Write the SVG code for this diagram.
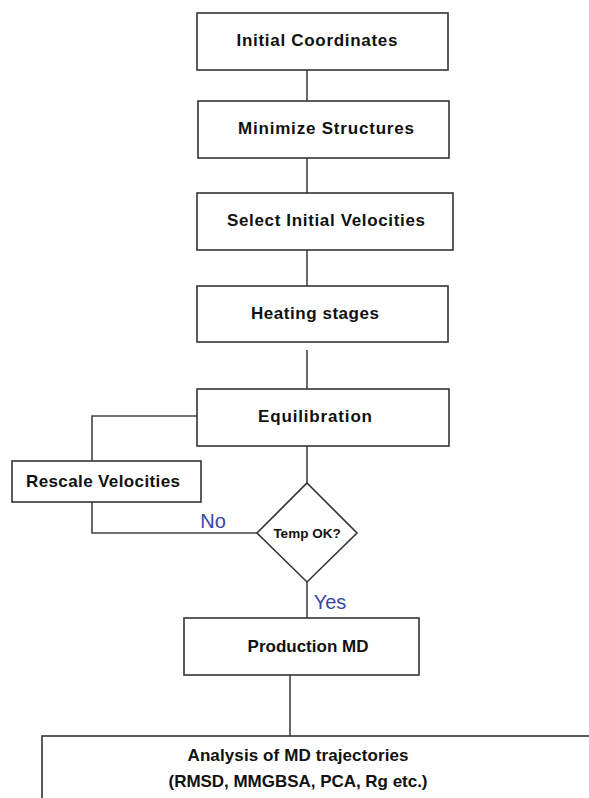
<svg xmlns="http://www.w3.org/2000/svg" width="589" height="798" viewBox="0 0 589 798">
<style>
.box{fill:#fff;stroke:#333;stroke-width:1.6}
.t{font-family:"Liberation Sans",Arial,sans-serif;font-weight:bold;font-size:17px;fill:#111;text-anchor:middle}
.s{font-size:13.5px}
.c{fill:none;stroke:#444;stroke-width:1.6}
.lbl{font-family:"Liberation Sans",Arial,sans-serif;font-size:20px;fill:#3a45a8}
</style>
<rect width="589" height="798" fill="#fff"/>
<g id="connectors">
<path class="c" d="M307 70V105"/>
<path class="c" d="M307 158V193"/>
<path class="c" d="M307 250V286"/>
<path class="c" d="M307 350V389"/>
<path class="c" d="M197 416H92V462"/>
<path class="c" d="M92 502V533H257"/>
<path class="c" d="M307 446V483"/>
<path class="c" d="M307 582V618"/>
<path class="c" d="M290 675V736"/>
<text class="lbl" x="213" y="528" text-anchor="middle">No</text>
<text class="lbl" x="330" y="609" text-anchor="middle">Yes</text>
</g>
<g id="n1"><rect class="box" x="197" y="13" width="251" height="57"/><text class="t" x="317" y="46" textLength="161" lengthAdjust="spacing">Initial Coordinates</text></g>
<g id="n2"><rect class="box" x="198" y="101" width="251" height="57"/><text class="t" x="326" y="134" textLength="176" lengthAdjust="spacing">Minimize Structures</text></g>
<g id="n3"><rect class="box" x="197" y="193" width="256" height="57"/><text class="t" x="326" y="226" textLength="198" lengthAdjust="spacing">Select Initial Velocities</text></g>
<g id="n4"><rect class="box" x="197" y="286" width="251" height="56"/><text class="t" x="315" y="319" textLength="128" lengthAdjust="spacing">Heating stages</text></g>
<g id="n5"><rect class="box" x="197" y="389" width="252" height="57"/><text class="t" x="315" y="422" textLength="114" lengthAdjust="spacing">Equilibration</text></g>
<g id="n6"><rect class="box" x="12" y="461" width="189" height="41"/><text class="t" x="103" y="487" textLength="154" lengthAdjust="spacing">Rescale Velocities</text></g>
<g id="n7"><polygon class="box" points="307,483 357,533 307,582 257,533"/><text class="t s" x="307" y="538">Temp OK?</text></g>
<g id="n8"><rect class="box" x="184" y="618" width="235" height="57"/><text class="t" x="308" y="652">Production MD</text></g>
<g id="n9"><rect class="box" x="42" y="736" width="560" height="80"/><text class="t" x="298" y="761" textLength="221" lengthAdjust="spacing">Analysis of MD trajectories</text><text class="t" x="298" y="787" textLength="259" lengthAdjust="spacing">(RMSD, MMGBSA, PCA, Rg etc.)</text></g>
</svg>
